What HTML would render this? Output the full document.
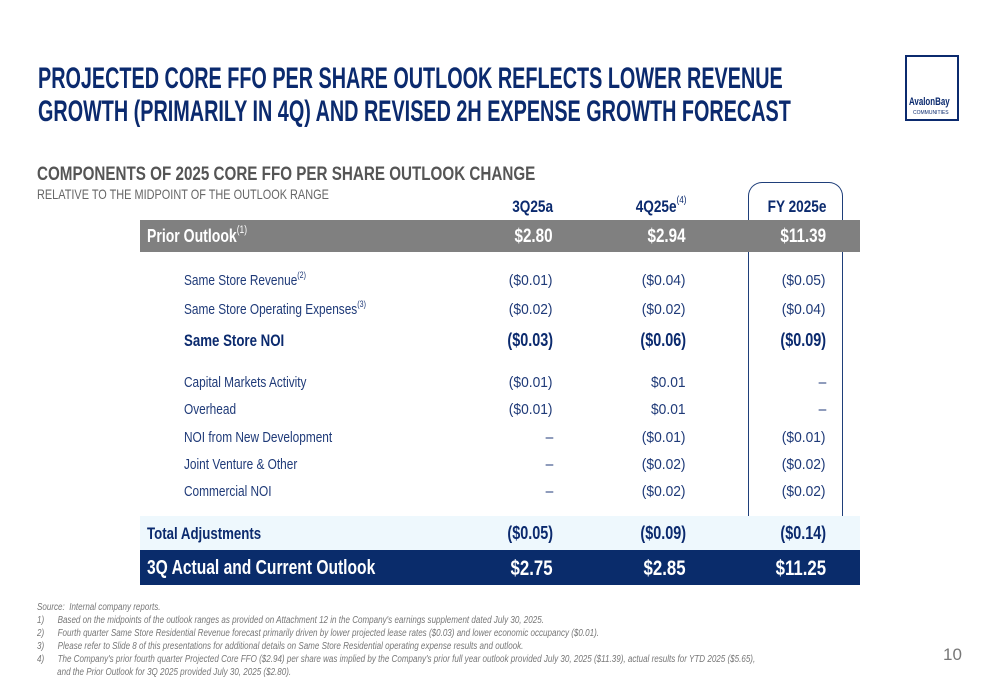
<!DOCTYPE html>
<html><head><meta charset="utf-8">
<style>
body{margin:0;width:1000px;height:685px;position:relative;background:#fff;overflow:hidden;font-family:"Liberation Sans",sans-serif;}
.a{position:absolute;white-space:nowrap;line-height:1;}
.n{transform:scaleX(0.78);transform-origin:left center;}
sup{font-size:60%;vertical-align:top;position:relative;top:-2px;font-weight:normal;}
</style></head><body>
<div class="a" style="left:38px;top:62px;font-size:30px;font-weight:bold;color:#0b2a6e;line-height:33px;transform:scaleX(0.66);transform-origin:left top;">PROJECTED CORE FFO PER SHARE OUTLOOK REFLECTS LOWER REVENUE<br>GROWTH (PRIMARILY IN 4Q) AND REVISED 2H EXPENSE GROWTH FORECAST</div>
<div class="a" style="left:905px;top:55px;width:54px;height:66px;border:2px solid #0b2a6e;box-sizing:border-box;">
 <div class="a" style="left:2px;top:40px;font-size:11px;font-weight:bold;color:#0b2a6e;transform:scaleX(0.72);transform-origin:left;">AvalonBay</div>
 <div class="a" style="left:6px;top:54px;font-size:5px;color:#0b2a6e;">COMMUNITIES</div>
</div>
<div class="a n" style="left:37px;top:165px;font-size:19px;font-weight:bold;color:#555;transform:scaleX(0.8);">COMPONENTS OF 2025 CORE FFO PER SHARE OUTLOOK CHANGE</div>
<div class="a n" style="left:37px;top:187px;font-size:14px;color:#666;">RELATIVE TO THE MIDPOINT OF THE OUTLOOK RANGE</div>

<div class="a" style="left:748px;top:182px;width:95px;height:380px;border:1.5px solid #1f3f7a;border-bottom:none;border-radius:14px 14px 0 0;box-sizing:border-box;"></div>

<div class="a" style="left:140px;top:220px;width:720px;height:32px;background:#808080;"></div>
<div class="a" style="left:140px;top:516px;width:720px;height:34px;background:#eef8fd;"></div>
<div class="a" style="left:140px;top:550px;width:720px;height:35px;background:#0a2c6b;"></div>
<div id="tbl"></div>

<div class="a" style="left:37px;top:601px;font-size:10px;font-style:italic;color:#777;line-height:13px;transform:scaleX(0.805);transform-origin:left top;">
Source:&nbsp; Internal company reports.<br>
1)&nbsp;&nbsp;&nbsp;&nbsp;&nbsp; Based on the midpoints of the outlook ranges as provided on Attachment 12 in the Company's earnings supplement dated July 30, 2025.<br>
2)&nbsp;&nbsp;&nbsp;&nbsp;&nbsp; Fourth quarter Same Store Residential Revenue forecast primarily driven by lower projected lease rates ($0.03) and lower economic occupancy ($0.01).<br>
3)&nbsp;&nbsp;&nbsp;&nbsp;&nbsp; Please refer to Slide 8 of this presentations for additional details on Same Store Residential operating expense results and outlook.<br>
4)&nbsp;&nbsp;&nbsp;&nbsp;&nbsp; The Company's prior fourth quarter Projected Core FFO ($2.94) per share was implied by the Company's prior full year outlook provided July 30, 2025 ($11.39), actual results for YTD 2025 ($5.65),<br>
&nbsp;&nbsp;&nbsp;&nbsp;&nbsp;&nbsp;&nbsp;&nbsp; and the Prior Outlook for 3Q 2025 provided July 30, 2025 ($2.80).</div>
<div class="a" style="left:943px;top:646px;font-size:17px;color:#777;">10</div>

<script>
const labels=["Prior Outlook","Same Store Revenue","Same Store Operating Expenses","Same Store NOI","Capital Markets Activity","Overhead","NOI from New Development","Joint Venture & Other","Commercial NOI","Total Adjustments","3Q Actual and Current Outlook"];
const notes=["(1)","(2)","(3)","","","","","","","",""];
const q3=["$2.80","($0.01)","($0.02)","($0.03)","($0.01)","($0.01)","–","–","–","($0.05)","$2.75"];
const q4=["$2.94","($0.04)","($0.02)","($0.06)","$0.01","$0.01","($0.01)","($0.02)","($0.02)","($0.09)","$2.85"];
const fy=["$11.39","($0.05)","($0.04)","($0.09)","–","–","($0.01)","($0.02)","($0.02)","($0.14)","$11.25"];
const headers=["3Q25a","4Q25e","FY 2025e"];
const rowY=[236,280,309,340,382,409,437,464,491,533,568];
const B={sz:17,w:"bold",sc:0.78,vsc:0.8};
const N={x:184,sz:15,w:"normal",c:"#1f3a78",sc:0.79,vsc:0.92};
const style=[
 Object.assign({},B,{x:147,sz:18,c:"#fff"}),N,N,
 Object.assign({},B,{x:184,c:"#0b2a6e"}),N,N,N,N,N,
 Object.assign({},B,{x:147,c:"#0b2a6e"}),Object.assign({},B,{x:147,sz:20,c:"#fff"})];
const colR=[553,686,826];
const t=document.getElementById('tbl');
function mk(html,css){const d=document.createElement('div');d.className='a';d.innerHTML=html;d.style.cssText=css;t.appendChild(d);return d;}
headers.forEach((h,i)=>{
 const d=mk(h+(i==1?'<sup>(4)</sup>':''),`right:${1000-colR[i]}px;top:198px;font-size:17px;font-weight:bold;color:#0b2a6e;transform:scaleX(0.8);transform-origin:right center;`);
 
 
});
labels.forEach((l,i)=>{
 const s=style[i];const vs=(s.sz>=17?s.sz+1:s.sz);
 const d=mk(l.replace('&','&amp;')+(notes[i]?'<sup>'+notes[i]+'</sup>':''),`left:${s.x}px;top:${rowY[i]-s.sz/2}px;font-size:${s.sz}px;font-weight:${s.w};color:${s.c};transform:scaleX(${s.sc});transform-origin:left center;`);
 
 
 [q3,q4,fy].forEach((arr,j)=>{
  const v=mk(arr[i],`right:${1000-colR[j]}px;top:${rowY[i]-vs/2}px;font-size:${vs}px;font-weight:${s.w};color:${s.c};transform:scaleX(${s.vsc});transform-origin:right center;`);
  
  
 });
});
</script>
</body></html>
